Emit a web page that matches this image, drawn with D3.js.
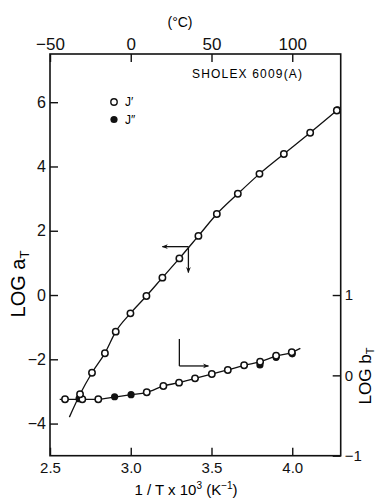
<!DOCTYPE html>
<html>
<head>
<meta charset="utf-8">
<script src="https://cdn.jsdelivr.net/npm/d3@7"></script>
<style>
  html, body { margin: 0; padding: 0; background: #fff; }
  svg { display: block; font-family: 'Liberation Sans', Arial, sans-serif; }
  .frame { fill: none; stroke: #111; stroke-width: 1.6; }
  .axis path.domain { display: none; }
  .axis line { stroke: #111; stroke-width: 1.4; }
  .axis text { fill: #111; }
  .curve { fill: none; stroke: #111; stroke-width: 1.3; }
  .arrow { fill: none; stroke: #111; stroke-width: 1.3; }
</style>
</head>
<body>
<svg width="377" height="499"></svg>
<script>
// shift factor a_T (left axis) vs 1/T x 10^3
const aTx = [2.686, 2.76, 2.84, 2.907, 2.998, 3.097, 3.196, 3.301, 3.419, 3.533, 3.663, 3.797, 3.948, 4.111, 4.276];
const aTy = [-3.09, -2.42, -1.81, -1.14, -0.57, -0.03, 0.54, 1.14, 1.84, 2.52, 3.15, 3.77, 4.39, 5.05, 5.74];
const aTFilledX = [4.28];
const aTFilledY = [5.76];
// drawn curve for a_T (runs a little past the lowest point)
const aTLineX = [2.62, 2.686, 2.76, 2.84, 2.907, 2.998, 3.097, 3.196, 3.301, 3.419, 3.533, 3.663, 3.797, 3.948, 4.111, 4.276];
const aTLineY = [-3.80, -3.09, -2.42, -1.81, -1.14, -0.57, -0.03, 0.54, 1.14, 1.84, 2.52, 3.15, 3.77, 4.39, 5.05, 5.74];

// vertical shift b_T (right axis)
const bTx = [2.593, 2.70, 2.799, 3.099, 3.202, 3.299, 3.398, 3.502, 3.601, 3.702, 3.801, 3.90, 3.997];
const bTy = [-0.298, -0.298, -0.298, -0.211, -0.132, -0.091, -0.037, 0.017, 0.067, 0.125, 0.170, 0.245, 0.287];
const bTFilledX = [2.68, 2.90, 3.002, 3.80, 3.90, 4.00];
const bTFilledY = [-0.29, -0.266, -0.241, 0.129, 0.225, 0.268];
const bTLineX = [2.56, 2.593, 2.70, 2.799, 2.90, 3.002, 3.099, 3.202, 3.299, 3.398, 3.502, 3.601, 3.702, 3.801, 3.90, 3.997, 4.05];
const bTLineY = [-0.298, -0.298, -0.298, -0.298, -0.27, -0.241, -0.211, -0.132, -0.091, -0.037, 0.017, 0.067, 0.125, 0.170, 0.240, 0.287, 0.337];

const bottomTicks = [2.5, 3.0, 3.5, 4.0];
const topTicks = [-50, 0, 50, 100];
const leftTicks = [-4, -2, 0, 2, 4, 6];
const rightTicks = [-1, 0, 1];

const svg = d3.select('svg');
const plotLeft = 50, plotRight = 340.7, plotTop = 54, plotBottom = 455.7;

const x = d3.scaleLinear().domain([2.5, 4.3]).range([plotLeft, plotRight]);
const xTop = d3.scaleLinear().domain([-50, 130]).range([plotLeft, plotRight]);
const yL = d3.scaleLinear().domain([-5, 7.5]).range([plotBottom, plotTop]);
const yR = d3.scaleLinear().domain([-1, 4]).range([plotBottom, plotTop]);

const defs = svg.append('defs');
defs.append('marker')
  .attr('id', 'head')
  .attr('viewBox', '0 0 10 10')
  .attr('refX', 9).attr('refY', 5)
  .attr('markerWidth', 6).attr('markerHeight', 6)
  .attr('markerUnits', 'userSpaceOnUse')
  .attr('orient', 'auto')
  .append('path')
  .attr('d', 'M0,1 L10,5 L0,9 L3,5 Z')
  .attr('fill', '#111');

// axes, ticks point inward
svg.append('g').attr('class', 'axis')
  .attr('transform', `translate(0,${plotBottom})`)
  .call(d3.axisBottom(x).tickValues(bottomTicks).tickFormat(d3.format('.1f'))
    .tickSizeInner(-8).tickSizeOuter(0).tickPadding(7))
  .selectAll('text').style('font-size', '15px');

svg.append('g').attr('class', 'axis')
  .attr('transform', `translate(0,${plotTop})`)
  .call(d3.axisTop(xTop).tickValues(topTicks).tickFormat(d3.format('d'))
    .tickSizeInner(-8).tickSizeOuter(0).tickPadding(4))
  .selectAll('text').style('font-size', '17px');

svg.append('g').attr('class', 'axis')
  .attr('transform', `translate(${plotLeft},0)`)
  .call(d3.axisLeft(yL).tickValues(leftTicks).tickFormat(d3.format('d'))
    .tickSizeInner(-8).tickSizeOuter(0).tickPadding(4))
  .selectAll('text').style('font-size', '16px');

svg.append('g').attr('class', 'axis')
  .attr('transform', `translate(${plotRight},0)`)
  .call(d3.axisRight(yR).tickValues(rightTicks).tickFormat(d3.format('d'))
    .tickSizeInner(-8).tickSizeOuter(0).tickPadding(4))
  .selectAll('text').style('font-size', '15px');

svg.append('rect').attr('class', 'frame')
  .attr('x', plotLeft).attr('y', plotTop)
  .attr('width', plotRight - plotLeft).attr('height', plotBottom - plotTop);

// titles
svg.append('text').attr('x', 180).attr('y', 27)
  .attr('text-anchor', 'middle').style('font-size', '14px').text('(°C)');

const xt = svg.append('text').attr('x', 186).attr('y', 495)
  .attr('text-anchor', 'middle').style('font-size', '15px');
xt.append('tspan').text('1 / T x 10');
xt.append('tspan').attr('dy', -6).style('font-size', '10px').text('3');
xt.append('tspan').attr('dy', 6).text(' (K');
xt.append('tspan').attr('dy', -6).style('font-size', '10px').text('−1');
xt.append('tspan').attr('dy', 6).text(')');

const yt = svg.append('text')
  .attr('transform', 'translate(25,284) rotate(-90)')
  .attr('text-anchor', 'middle').style('font-size', '20px');
yt.append('tspan').text('LOG a');
yt.append('tspan').attr('dy', 4).style('font-size', '13px').text('T');

const yt2 = svg.append('text')
  .attr('transform', 'translate(371,376) rotate(-90)')
  .attr('text-anchor', 'middle').style('font-size', '17px');
yt2.append('tspan').text('LOG b');
yt2.append('tspan').attr('dy', 3).style('font-size', '11px').text('T');

svg.append('text').attr('x', 192).attr('y', 78)
  .attr('textLength', 110).attr('lengthAdjust', 'spacing')
  .style('font-size', '12px').text('SHOLEX 6009(A)');

// legend
svg.append('circle').attr('cx', 114).attr('cy', 102).attr('r', 3.2)
  .attr('fill', '#fff').attr('stroke', '#111').attr('stroke-width', 1.4);
svg.append('text').attr('x', 125).attr('y', 106).style('font-size', '12px').text('J′');
svg.append('circle').attr('cx', 114).attr('cy', 119.5).attr('r', 3.6).attr('fill', '#111');
svg.append('text').attr('x', 125).attr('y', 124).style('font-size', '12px').text('J″');

// curves
const lineL = d3.line().x((d) => x(d[0])).y((d) => yL(d[1])).curve(d3.curveMonotoneX);
const lineR = d3.line().x((d) => x(d[0])).y((d) => yR(d[1])).curve(d3.curveMonotoneX);

svg.append('path').attr('class', 'curve')
  .attr('d', lineL(d3.zip(aTLineX, aTLineY)));
svg.append('path').attr('class', 'curve')
  .attr('d', lineR(d3.zip(bTLineX, bTLineY)));

// axis-pointer arrows
const a1 = [3.357, 1.505];
svg.append('line').attr('class', 'arrow')
  .attr('x1', x(a1[0])).attr('y1', yL(a1[1]))
  .attr('x2', x(3.196)).attr('y2', yL(a1[1]))
  .attr('marker-end', 'url(#head)');
svg.append('line').attr('class', 'arrow')
  .attr('x1', x(a1[0])).attr('y1', yL(a1[1]))
  .attr('x2', x(a1[0])).attr('y2', yL(0.70))
  .attr('marker-end', 'url(#head)');

const a2 = [3.301, 0.117];
svg.append('line').attr('class', 'arrow')
  .attr('x1', x(a2[0])).attr('y1', yR(a2[1]))
  .attr('x2', x(3.481)).attr('y2', yR(a2[1]))
  .attr('marker-end', 'url(#head)');
svg.append('line').attr('class', 'arrow')
  .attr('x1', x(a2[0])).attr('y1', yR(a2[1]))
  .attr('x2', x(a2[0])).attr('y2', yR(0.453));

// points
function openDots(xs, ys, yScale) {
  svg.append('g').selectAll('circle')
    .data(d3.zip(xs, ys))
    .enter()
    .append('circle')
    .attr('cx', (d) => x(d[0]))
    .attr('cy', (d) => yScale(d[1]))
    .attr('r', 3.2)
    .attr('fill', '#fff')
    .attr('stroke', '#111')
    .attr('stroke-width', 1.5);
}
function filledDots(xs, ys, yScale) {
  svg.append('g').selectAll('circle')
    .data(d3.zip(xs, ys))
    .enter()
    .append('circle')
    .attr('cx', (d) => x(d[0]))
    .attr('cy', (d) => yScale(d[1]))
    .attr('r', 3.6)
    .attr('fill', '#111');
}

filledDots(bTFilledX, bTFilledY, yR);
openDots(bTx, bTy, yR);
filledDots(aTFilledX, aTFilledY, yL);
openDots(aTx, aTy, yL);
</script>
</body>
</html>
